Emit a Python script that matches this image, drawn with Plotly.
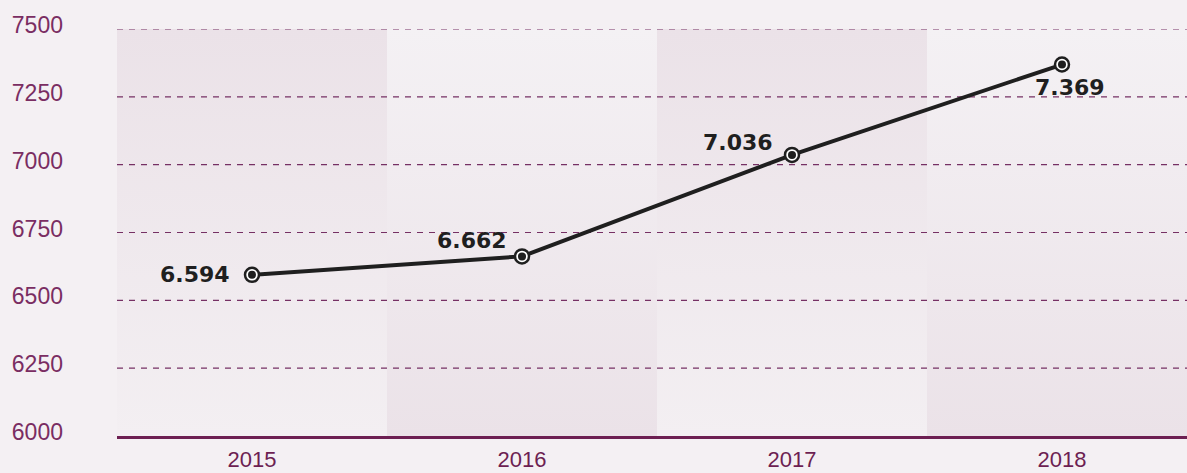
import plotly.graph_objects as go

# Data
years = ["2015", "2016", "2017", "2018"]
values = [6594, 6662, 7036, 7369]
value_labels = ["6.594", "6.662", "7.036", "7.369"]
y_ticks = [6000, 6250, 6500, 6750, 7000, 7250, 7500]

Y_MIN, Y_MAX = 6000, 7500
BG = "#f4f0f3"
DARK = "#ebe2e8"
LIGHT = "#f4f1f4"
PURPLE = "#6d1f52"
INK = "#1f1f1f"

x_pos = list(range(len(years)))

fig = go.Figure()

# Alternating column bands with vertical gradients
for i in x_pos:
    if i % 2 == 0:
        scale = [[0, "#f3eff2"], [1, DARK]]   # bottom light, top dark
    else:
        scale = [[0, DARK], [1, LIGHT]]       # bottom dark, top light
    fig.add_trace(go.Scatter(
        x=[i - 0.5, i + 0.5, i + 0.5, i - 0.5, i - 0.5],
        y=[Y_MIN, Y_MIN, Y_MAX, Y_MAX, Y_MIN],
        mode="lines", line=dict(width=0), fill="toself",
        fillgradient=dict(type="vertical", colorscale=scale,
                          start=Y_MIN, stop=Y_MAX),
        hoverinfo="skip", showlegend=False,
    ))

# Dashed horizontal grid drawn over the bands
for t in y_ticks[1:]:
    fig.add_trace(go.Scatter(
        x=[-0.5, 3.6], y=[t, t], mode="lines",
        line=dict(color="#763064", width=1.2, dash="6px,6px"),
        hoverinfo="skip", showlegend=False,
    ))

# Main series
fig.add_trace(go.Scatter(
    x=x_pos, y=values, mode="lines",
    line=dict(color=INK, width=4), showlegend=False,
))
fig.add_trace(go.Scatter(
    x=x_pos, y=values, mode="markers",
    marker=dict(size=14, color="white", line=dict(color=INK, width=2.5)),
    showlegend=False,
))
fig.add_trace(go.Scatter(
    x=x_pos, y=values, mode="markers",
    marker=dict(size=8, color=INK), showlegend=False,
))

# Value labels
label_pos = [
    dict(xanchor="right", xshift=-20, yshift=0),
    dict(xanchor="right", xshift=-13, yshift=16),
    dict(xanchor="right", xshift=-17, yshift=12),
    dict(xanchor="center", xshift=8, yshift=-23),
]
for i, (v, txt) in enumerate(zip(values, value_labels)):
    fig.add_annotation(
        x=i, y=v, text=txt, showarrow=False, yanchor="middle",
        font=dict(family="DejaVu Sans", size=22, color=INK, weight="bold"),
        **label_pos[i],
    )

fig.update_layout(
    width=1187, height=473,
    margin=dict(l=117, r=0, t=29, b=37),
    paper_bgcolor=BG, plot_bgcolor=BG,
    font=dict(family="Liberation Sans", color=PURPLE),
    xaxis=dict(
        range=[-0.5, 3.463], tickvals=x_pos, ticktext=years,
        showgrid=False, zeroline=False, showline=True,
        linecolor=PURPLE, linewidth=3, ticks="", automargin=False,
        tickfont=dict(size=22, color=PURPLE), ticklabelstandoff=2,
    ),
    yaxis=dict(
        range=[Y_MIN, Y_MAX], tickvals=y_ticks, automargin=False,
        showgrid=False, zeroline=False, showline=False, ticks="",
        tickfont=dict(size=23, color="#7a2d62"),
        ticklabelstandoff=53, ticklabelshift=-4,
    ),
)

fig.write_html("out.html")
